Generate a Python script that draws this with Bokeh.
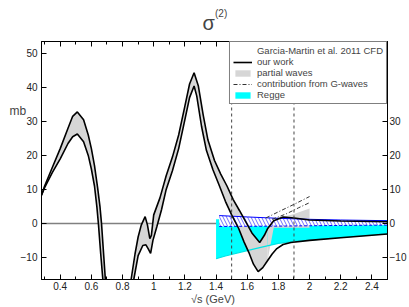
from bokeh.plotting import figure
from bokeh.models import LinearAxis, FixedTicker, Span, Label, Legend, LegendItem
from bokeh.embed import file_html
from bokeh.resources import INLINE

# ---------------- data ----------------
# "our work": upper and lower curves (mb) vs sqrt(s) (GeV)
xU = [0.28, 0.30, 0.35, 0.40, 0.45, 0.48, 0.51, 0.55, 0.58, 0.60, 0.62, 0.64, 0.655, 0.665,
      0.68, 0.695, 0.72, 0.78, 0.83, 0.845, 0.855, 0.88, 0.90, 0.92, 0.945, 0.96, 0.975,
      0.985, 1.00, 1.04, 1.08, 1.12, 1.16, 1.20, 1.23, 1.259, 1.286, 1.317, 1.348, 1.39,
      1.43, 1.47, 1.51, 1.55, 1.59, 1.63, 1.68, 1.71, 1.73, 1.77, 1.83, 1.90, 2.00, 2.20, 2.50]
yU = [8.3, 11.0, 16.5, 22.0, 28.0, 31.5, 32.8, 30.5, 26.0, 22.0, 17.0, 10.5, 5.0, 0.0,
      -10.0, -20.0, -40.0, -60.0, -35.0, -24.0, -16.5, -9.0, -4.0, -0.5, 2.0, -0.5, -4.5,
      -3.5, 2.5, 7.5, 14.0, 19.5, 26.0, 34.5, 41.0, 44.3, 40.5, 32.0, 24.5, 18.5,
      14.5, 11.0, 7.0, 3.8, 0.5, -2.8, -5.6, -3.5, -1.6, 0.8, 1.9, 1.6, 1.0, 0.7, 0.5]

xL = [0.28, 0.30, 0.35, 0.40, 0.45, 0.48, 0.51, 0.55, 0.58, 0.60, 0.62, 0.635, 0.645, 0.66,
      0.68, 0.70, 0.76, 0.82, 0.85, 0.872, 0.90, 0.93, 0.95, 0.965, 0.98, 0.995, 1.02,
      1.05, 1.08, 1.12, 1.16, 1.20, 1.23, 1.259, 1.276, 1.307, 1.338, 1.38, 1.42, 1.46,
      1.50, 1.545, 1.58, 1.61, 1.64, 1.67, 1.70, 1.73, 1.76, 1.79, 1.83, 1.88, 2.00, 2.20, 2.50]
yL = [8.3, 10.5, 15.0, 19.0, 23.5, 25.5, 26.3, 24.0, 20.0, 16.0, 11.0, 5.0, 0.0, -9.0,
      -20.0, -35.0, -70.0, -60.0, -30.0, -16.5, -9.5, -6.5, -6.3, -7.5, -8.8, -5.0, -1.0,
      4.0, 10.0, 15.5, 22.0, 30.5, 37.0, 40.4, 37.5, 28.5, 21.5, 15.8, 11.2, 6.5,
      2.5, -1.5, -5.5, -8.5, -12.0, -14.2, -13.0, -11.0, -9.0, -7.4, -6.2, -5.6, -5.0, -4.2, -3.1]

# partial-wave band beyond the dip
pw_x = [1.73, 1.77, 1.80, 1.85, 1.90, 1.95, 2.00]
pw_hi = [-1.6, 0.8, 1.5, 2.2, 2.8, 3.6, 4.4]
pw_lo = [-11.0, -1.3, -1.3, -1.3, -1.3, -1.3, -1.3]
pw_end = 1.73

# Regge band
regge_x = [1.40, 1.46, 1.60, 1.70, 1.80, 1.90, 2.00, 2.20, 2.50]
regge_hi = [1.2, 1.2, 1.2, 1.2, 1.1, 1.1, 1.1, 1.0, 1.0]
regge_lo = [-10.4, -9.6, -8.0, -6.9, -5.9, -5.3, -4.9, -4.1, -3.0]

# Garcia-Martin et al. 2011 CFD band
cfd_x = [1.42, 1.60, 1.80, 2.00, 2.20, 2.50]
cfd_hi = [2.3, 1.9, 1.5, 1.2, 1.0, 0.8]
cfd_lo = [-0.9, -0.85, -0.8, -0.7, -0.6, -0.5]

# contribution from G-waves
g1_x = [1.72, 1.80, 1.90, 2.00]
g1_y = [1.6, 3.4, 5.6, 7.9]
g2_x = [1.76, 1.85, 1.93, 2.00]
g2_y = [1.2, 2.8, 4.6, 6.1]

cut_lines = [1.5, 1.9]

x_ticks = [0.4, 0.6, 0.8, 1.0, 1.2, 1.4, 1.6, 1.8, 2.0, 2.2, 2.4]
x_tick_labels = ["0.4", "0.6", "0.8", "1", "1.2", "1.4", "1.6", "1.8", "2", "2.2", "2.4"]
x_minor = [0.3, 0.5, 0.7, 0.9, 1.1, 1.3, 1.5, 1.7, 1.9, 2.1, 2.3, 2.5]
y_ticks = [-10, 0, 10, 20, 30, 40, 50]
y_ticks_right = [-10, 0, 10, 20, 30]

X0, X1 = 0.28, 2.5
Y0, Y1 = -16.5, 53.5
FONT = "Liberation Sans"

# ---------------- figure ----------------
p = figure(width=409, height=307, x_range=(X0, X1), y_range=(Y0, Y1),
           output_backend="svg", toolbar_location=None,
           min_border_left=35, min_border_right=18, min_border_top=41, min_border_bottom=27)
p.xgrid.visible = False
p.ygrid.visible = False
p.outline_line_color = "black"
p.background_fill_color = "white"
p.border_fill_color = "white"


def style_axis(ax, labels=True):
    ax.axis_line_color = "black"
    ax.axis_line_width = 1
    ax.major_tick_in = 5
    ax.major_tick_out = 0
    ax.minor_tick_in = 3
    ax.minor_tick_out = 0
    ax.major_tick_line_color = "black"
    ax.minor_tick_line_color = "black"
    ax.major_label_text_font = FONT
    ax.major_label_text_font_size = "10px"
    ax.major_label_text_color = "#222222" if labels else None
    ax.major_label_standoff = 2


xt = FixedTicker(ticks=x_ticks, minor_ticks=x_minor)
yt = FixedTicker(ticks=y_ticks, minor_ticks=[])
overrides = {t: l for t, l in zip(x_ticks, x_tick_labels)}

p.xaxis.ticker = xt
p.xaxis.major_label_overrides = overrides
style_axis(p.xaxis[0])
p.xaxis.axis_label = "\u221as  (GeV)"
p.xaxis.axis_label_text_font = FONT
p.xaxis.axis_label_text_font_style = "normal"
p.xaxis.axis_label_text_font_size = "11px"
p.xaxis.axis_label_standoff = 0

p.yaxis.ticker = yt
style_axis(p.yaxis[0])
p.yaxis.major_label_standoff = 4

top = LinearAxis(ticker=xt)
style_axis(top, labels=False)
top.major_label_text_font_size = "1px"
top.major_label_standoff = 0
p.add_layout(top, "above")

right = LinearAxis(ticker=FixedTicker(ticks=y_ticks_right, minor_ticks=[]))
style_axis(right)
p.add_layout(right, "right")

# zero line under everything
p.add_layout(Span(location=0, dimension="width", line_color="#808080",
                  line_width=1.5, level="underlay"))

# Regge band
r_regge = p.varea(x=regge_x, y1=regge_lo, y2=regge_hi, fill_color="#00ffff")

# partial waves (gray) band between the two curves
gx = [x for x in xU if x <= pw_end] + [x for x in xL if x <= pw_end][::-1]
gy = [y for x, y in zip(xU, yU) if x <= pw_end] + [y for x, y in zip(xL, yL) if x <= pw_end][::-1]
r_pw = p.patch(x=gx, y=gy, fill_color="#d6d6d6", line_color=None)
p.varea(x=pw_x, y1=pw_lo, y2=pw_hi, fill_color="#d6d6d6")

# Regge lower edge
p.line(regge_x, regge_lo, line_color="#00e5e5", line_width=1.2)

# CFD band
HATCH = dict(hatch_pattern="\\", hatch_color="#3030ff", hatch_scale=7, hatch_weight=0.7)
p.varea(x=cfd_x, y1=cfd_lo, y2=cfd_hi, fill_color="white", **HATCH)
p.line(cfd_x, cfd_hi, line_color="blue", line_width=1)
p.line(cfd_x, cfd_lo, line_color="blue", line_width=1, line_dash="3 2")
r_cfd = p.patch(x=[], y=[], fill_color="white", line_color="blue", line_width=1, **HATCH)

# G-wave contribution
r_g = p.line(g1_x, g1_y, line_color="#333333", line_width=1, line_dash="4 2 1 2")
p.line(g2_x, g2_y, line_color="#333333", line_width=1, line_dash="4 2 1 2")

# our work
r_u = p.line(xU, yU, line_color="black", line_width=1.6)
p.line(xL, yL, line_color="black", line_width=1.6)

for c in cut_lines:
    p.add_layout(Span(location=c, dimension="height", line_color="#444444",
                      line_width=1, line_dash="3 3"))

legend = Legend(items=[
    LegendItem(label="Garcia-Martin et al. 2011 CFD", renderers=[r_cfd]),
    LegendItem(label="our work", renderers=[r_u]),
    LegendItem(label="partial waves", renderers=[r_pw]),
    LegendItem(label="contribution from G-waves", renderers=[r_g]),
    LegendItem(label="Regge", renderers=[r_regge]),
], location="top_right")
legend.label_text_font = FONT
legend.label_text_font_size = "9.5px"
legend.label_height = 11
legend.glyph_height = 8
legend.glyph_width = 19
legend.label_standoff = 5
legend.spacing = 0
legend.padding = 3
legend.margin = 0
legend.border_line_color = "black"
legend.border_line_width = 1
legend.background_fill_alpha = 1
p.add_layout(legend)

# y label and title (outside the frame, positioned in data units)
px_per_x = 356 / (X1 - X0)
px_per_y = 239 / (Y1 - Y0)
p.add_layout(Label(x=X0 - 33 / px_per_x, y=33, text="mb",
                   text_font=FONT, text_font_size="12px", text_baseline="middle",
                   text_align="left"), "left")
p.add_layout(Label(x=X0 + 172 / px_per_x, y=Y1 + 19 / px_per_y, text="\u03c3",
                   text_font=FONT, text_font_size="20px", text_baseline="alphabetic",
                   text_align="center"), "above")
p.add_layout(Label(x=X0 + 178.5 / px_per_x, y=Y1 + 28.5 / px_per_y, text="(2)",
                   text_font=FONT, text_font_size="10px", text_baseline="alphabetic",
                   text_align="left"), "above")

open("out.html", "w").write(file_html(p, INLINE))
